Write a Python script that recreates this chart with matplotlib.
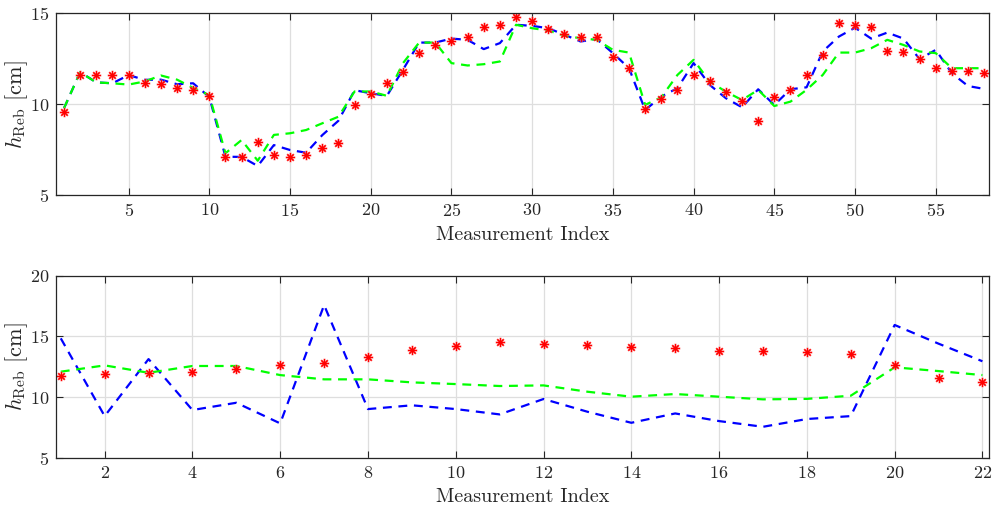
import matplotlib
matplotlib.use("Agg")
import matplotlib.pyplot as plt
import numpy as np

# ---- data: top panel (58 measurements) ----
top_meas = [9.59, 11.58, 11.58, 11.58, 11.6, 11.19, 11.1, 10.91, 10.79, 10.47,
            7.11, 7.11, 7.9, 7.2, 7.11, 7.18, 7.61, 7.88, 9.98, 10.55,
            11.19, 11.78, 12.79, 13.28, 13.48, 13.69, 14.27, 14.38, 14.79, 14.57,
            14.16, 13.87, 13.69, 13.69, 12.57, 11.98, 9.76, 10.29, 10.79, 11.6,
            11.28, 10.69, 10.2, 9.08, 10.38, 10.79, 11.58, 12.68, 14.46, 14.37,
            14.27, 12.95, 12.88, 12.48, 11.98, 11.8, 11.8, 11.7]
top_blue = [9.78, 11.76, 11.2, 11.15, 11.6, 11.34, 11.35, 11.1, 11.15, 10.4,
            7.11, 7.1, 6.6, 7.75, 7.48, 7.33, 8.3, 9.09, 10.77, 10.6,
            10.46, 11.9, 13.39, 13.39, 13.61, 13.54, 13.03, 13.36, 14.37, 14.31,
            14.18, 13.82, 13.45, 13.58, 12.81, 11.98, 9.68, 10.42, 10.88, 12.26,
            11.06, 10.33, 9.83, 10.82, 9.96, 10.82, 10.93, 12.9, 13.72, 14.21,
            13.61, 13.94, 13.61, 12.48, 12.99, 11.7, 11.0, 10.84]
top_green = [9.78, 11.76, 11.2, 11.15, 11.08, 11.25, 11.58, 11.35, 10.9, 10.5,
             7.3, 8.03, 6.89, 8.31, 8.4, 8.58, 8.95, 9.31, 10.7, 10.7,
             10.46, 12.26, 13.39, 13.39, 12.26, 12.13, 12.2, 12.35, 14.37, 14.18,
             14.05, 13.76, 13.63, 13.54, 12.99, 12.84, 9.96, 10.38, 11.61, 12.44,
             11.24, 10.69, 10.23, 10.79, 9.9, 10.14, 10.79, 11.61, 12.84, 12.84,
             13.08, 13.54, 13.26, 12.9, 12.81, 11.98, 11.98, 11.98]

# ---- data: bottom panel (22 measurements) ----
bot_meas = [11.73, 11.9, 11.95, 12.09, 12.31, 12.61, 12.8, 13.32, 13.9, 14.2,
            14.51, 14.4, 14.31, 14.1, 14.01, 13.82, 13.82, 13.74, 13.52, 12.64,
            11.54, 11.21]
bot_blue = [14.84, 8.43, 13.13, 8.93, 9.53, 7.83, 17.58, 9.01, 9.32, 9.01,
            8.57, 9.84, 8.79, 7.88, 8.65, 8.02, 7.55, 8.19, 8.43, 15.94,
            14.4, 12.95]
bot_green = [12.09, 12.61, 12.0, 12.56, 12.56, 11.81, 11.46, 11.46, 11.21, 11.07,
             10.91, 10.96, 10.44, 10.03, 10.25, 10.03, 9.81, 9.85, 10.11, 12.45,
             12.14, 11.81]

top_xticks = [5, 10, 15, 20, 25, 30, 35, 40, 45, 50, 55]
top_yticks = [5, 10, 15]
bot_xticks = list(range(2, 23, 2))
bot_yticks = [5, 10, 15, 20]

plt.rcParams['font.family'] = 'serif'
plt.rcParams['font.serif'] = ['cmr10', 'DejaVu Serif']
plt.rcParams['mathtext.fontset'] = 'cm'
plt.rcParams['axes.formatter.use_mathtext'] = True

fig = plt.figure(figsize=(9.99, 5.12), dpi=100)
ax1 = fig.add_axes([0.056, 0.619, 0.934, 0.355])
ax2 = fig.add_axes([0.056, 0.106, 0.934, 0.3555])

spine_c = '#262626'
grid_c = '#dedede'

def style(ax, xticks, yticks, xlim, ylim):
    ax.set_xlim(*xlim)
    ax.set_ylim(*ylim)
    ax.set_xticks(xticks)
    ax.set_yticks(yticks)
    ax.grid(True, color=grid_c, linewidth=0.9)
    ax.set_axisbelow(True)
    ax.tick_params(direction='in', top=True, right=True, length=5, width=0.8,
                   color=spine_c, labelsize=13, labelcolor='#262626', pad=5)
    for s in ax.spines.values():
        s.set_color(spine_c)
        s.set_linewidth(0.9)
    ax.set_xlabel('Measurement Index', fontsize=14.5, color='#262626', labelpad=5)
    ax.set_ylabel(r'$h_{\mathrm{Reb}}$ [cm]', fontsize=16, color='#262626', labelpad=0)

def draw(ax, x, meas, blue, green):
    ax.plot(x, blue, color=(0, 0, 1), linestyle=(0, (4, 3)), linewidth=1.6)
    ax.plot(x, green, color=(0, 1, 0), linestyle=(0, (4, 3)), linewidth=1.6)
    ax.plot(x, meas, linestyle='none', marker=(8, 2, 0), markersize=7,
            markeredgecolor='#ff8080', markeredgewidth=1.4, alpha=0.55)
    ax.plot(x, meas, linestyle='none', marker=(8, 2, 0), markersize=6,
            markeredgecolor='red', markeredgewidth=0.8)

x1 = np.arange(1, len(top_meas) + 1)
x2 = np.arange(1, len(bot_meas) + 1)
draw(ax1, x1, top_meas, top_blue, top_green)
draw(ax2, x2, bot_meas, bot_blue, bot_green)
style(ax1, top_xticks, top_yticks, (0.5, 58.3), (5, 15))
style(ax2, bot_xticks, bot_yticks, (0.89, 22.15), (5, 20))

fig.savefig('out.png', dpi=100)
